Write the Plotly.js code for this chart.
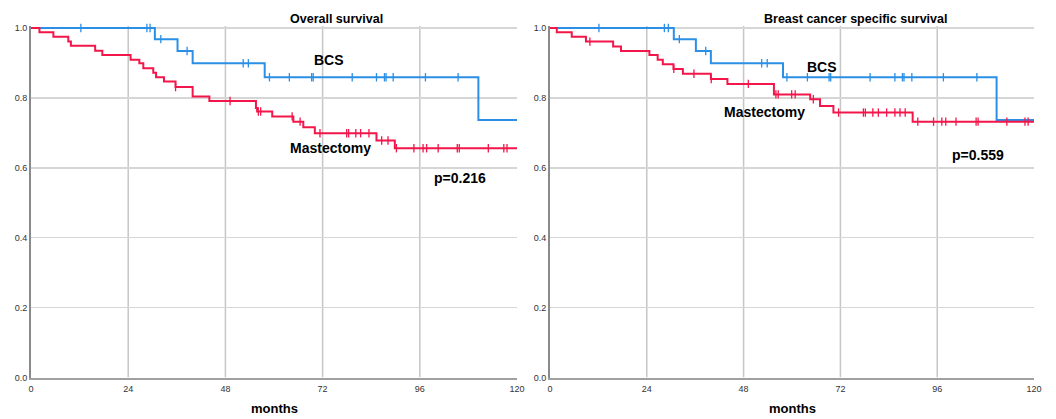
<!DOCTYPE html>
<html>
<head>
<meta charset="utf-8">
<script src="https://cdn.plot.ly/plotly-3.0.1.min.js"></script>
<style>html,body{margin:0;padding:0;background:#fff;}#chart{width:1056px;height:419px;}</style>
</head>
<body>
<div id="chart"></div>
<script>
// ---- Overall survival (left) ----
const osBcsTimes = [0, 30.58, 36.18, 39.91, 57.70, 110.46];
const osBcsSurv  = [1, 0.968, 0.934, 0.899, 0.859, 0.737];
const osBcsCens  = [12.31, 28.62, 29.40, 32.05, 38.54, 52.39, 53.67, 58.88, 63.79, 69.29, 69.68, 79.31, 85.30, 87.27, 87.66, 89.43, 97.39, 105.45];
const osBcsEnd   = 120;

const osMasTimes = [0, 2.09, 5.53, 9.21, 9.85, 15.84, 17.61, 24.59, 26.75, 27.73, 30.19, 30.88, 32.84, 35.69, 39.91, 44.04, 55.54, 55.83, 59.56, 64.77, 67.23, 70.08, 85.30, 89.83];
const osMasSurv  = [1, 0.988, 0.975, 0.961, 0.949, 0.935, 0.923, 0.909, 0.899, 0.885, 0.872, 0.859, 0.847, 0.831, 0.804, 0.791, 0.771, 0.761, 0.747, 0.732, 0.716, 0.699, 0.678, 0.656];
const osMasCens  = [35.69, 49.15, 56.13, 56.71, 64.48, 66.44, 71.35, 77.94, 78.43, 80.20, 81.38, 83.44, 86.58, 88.15, 90.22, 94.54, 96.80, 97.68, 100.53, 105.25, 105.74, 112.91, 116.74, 117.53];
const osMasEnd   = 120;

// ---- Breast cancer specific survival (right) ----
const bcBcsTimes = [0, 30.70, 36.17, 39.89, 57.77, 110.72];
const bcBcsSurv  = [1, 0.968, 0.934, 0.899, 0.859, 0.737];
const bcBcsCens  = [12.14, 28.36, 29.34, 32.07, 38.62, 52.49, 53.86, 58.74, 63.82, 69.20, 69.59, 79.36, 85.51, 87.37, 87.76, 89.71, 97.53, 105.83];
const bcBcsEnd   = 120;

const bcMasTimes = [0, 1.69, 5.40, 8.92, 15.66, 17.61, 24.65, 26.70, 27.97, 30.61, 32.95, 39.89, 43.99, 55.52, 64.51, 66.95, 70.27, 89.91];
const bcMasSurv  = [1, 0.988, 0.975, 0.961, 0.947, 0.934, 0.923, 0.909, 0.896, 0.883, 0.869, 0.854, 0.840, 0.810, 0.796, 0.777, 0.758, 0.732];
const bcMasCens  = [9.89, 30.70, 35.69, 39.98, 49.17, 56.01, 56.59, 59.92, 60.79, 65.29, 71.54, 77.70, 78.19, 80.04, 81.41, 83.46, 85.51, 86.78, 88.06, 91.18, 95.09, 97.14, 98.12, 100.66, 105.64, 106.13, 113.26, 117.75, 118.54];
const bcMasEnd   = 120;

const xTicks = [0, 24, 48, 72, 96, 120];
const xGridAt = [24, 48, 72, 96];
const yTicks = [0, 0.2, 0.4, 0.6, 0.8, 1.0];
const yTickText = ['0.0', '0.2', '0.4', '0.6', '0.8', '1.0'];

const BLUE = '#2b8fe6';
const RED = '#f2164a';
const FONT = 'Liberation Sans, Arial, sans-serif';

function survAt(times, surv, t) {
  let s = surv[0];
  for (let i = 0; i < times.length; i++) { if (times[i] <= t) s = surv[i]; }
  return s;
}
function curve(times, surv, end, color, xa, ya) {
  return {
    x: times.concat([end]), y: surv.concat([surv[surv.length - 1]]),
    type: 'scatter', mode: 'lines', line: {shape: 'hv', color: color, width: 2},
    xaxis: xa, yaxis: ya, hoverinfo: 'skip', showlegend: false
  };
}
function cens(times, surv, cs, color, xa, ya) {
  return {
    x: cs, y: cs.map(t => survAt(times, surv, t)),
    type: 'scatter', mode: 'markers',
    marker: {symbol: 'line-ns', size: 6, line: {color: color, width: 1.3}},
    xaxis: xa, yaxis: ya, hoverinfo: 'skip', showlegend: false, cliponaxis: false
  };
}

const data = [
  curve(osBcsTimes, osBcsSurv, osBcsEnd, BLUE, 'x', 'y'),
  cens(osBcsTimes, osBcsSurv, osBcsCens, BLUE, 'x', 'y'),
  curve(osMasTimes, osMasSurv, osMasEnd, RED, 'x', 'y'),
  cens(osMasTimes, osMasSurv, osMasCens, RED, 'x', 'y'),
  curve(bcBcsTimes, bcBcsSurv, bcBcsEnd, BLUE, 'x2', 'y2'),
  cens(bcBcsTimes, bcBcsSurv, bcBcsCens, BLUE, 'x2', 'y2'),
  curve(bcMasTimes, bcMasSurv, bcMasEnd, RED, 'x2', 'y2'),
  cens(bcMasTimes, bcMasSurv, bcMasCens, RED, 'x2', 'y2')
];

const tickFont = {family: FONT, size: 9, color: '#333'};
function xAxis(domain, anchor) {
  return {
    domain: domain, range: [0, 120], anchor: anchor,
    tickvals: xTicks, ticktext: xTicks.map(String), tickfont: tickFont,
    showgrid: false, ticklabelstandoff: 2,
    showline: true, linecolor: '#a0a0a0', linewidth: 2,
    zeroline: false, ticks: '', fixedrange: true
  };
}
function yAxis(anchor) {
  return {
    domain: [0.0990, 0.9382], range: [0, 1.006], anchor: anchor,
    tickvals: yTicks, ticktext: yTickText, tickfont: tickFont,
    showgrid: true, gridcolor: '#d6d6d6', gridwidth: 1.5,
    showline: true, linecolor: '#8a8a8a', linewidth: 2,
    zeroline: false, ticks: '', fixedrange: true
  };
}

// vertical grid lines at the inner x ticks (no line at 120, as in the original)
const shapes = [];
[['x', 'y'], ['x2', 'y2']].forEach(([xa, ya]) => {
  xGridAt.forEach(v => shapes.push({
    type: 'line', xref: xa, yref: ya, x0: v, x1: v, y0: 0, y1: 1.006,
    layer: 'below', line: {color: '#c6c6c6', width: 1.5}
  }));
});

function ann(text, x, y, size) {
  return {text: '<b>' + text + '</b>', xref: 'paper', yref: 'paper', x: x, y: y,
    xanchor: 'center', yanchor: 'middle', showarrow: false,
    font: {family: FONT, size: size, color: '#000'}};
}

const layout = {
  width: 1056, height: 419,
  margin: {l: 0, r: 0, t: 0, b: 0},
  paper_bgcolor: '#fff', plot_bgcolor: '#fff',
  showlegend: false,
  xaxis: xAxis([0.02936, 0.4896], 'y'),
  yaxis: yAxis('x'),
  xaxis2: xAxis([0.5208, 0.9792], 'y2'),
  yaxis2: yAxis('x2'),
  shapes: shapes,
  annotations: [
    ann('Overall survival', 0.3182, 0.9547, 12.5),
    ann('Breast cancer specific survival', 0.8097, 0.9547, 12.5),
    ann('BCS', 0.3116, 0.8568, 14),
    ann('Mastectomy', 0.3134, 0.6468, 14),
    ann('p=0.216', 0.4356, 0.5752, 14),
    ann('BCS', 0.7784, 0.8401, 14),
    ann('Mastectomy', 0.7244, 0.7327, 14),
    ann('p=0.559', 0.9261, 0.6301, 14),
    ann('months', 0.2600, 0.0240, 13),
    ann('months', 0.7500, 0.0240, 13)
  ]
};

Plotly.newPlot('chart', data, layout, {displayModeBar: false, staticPlot: true});
</script>
</body>
</html>
